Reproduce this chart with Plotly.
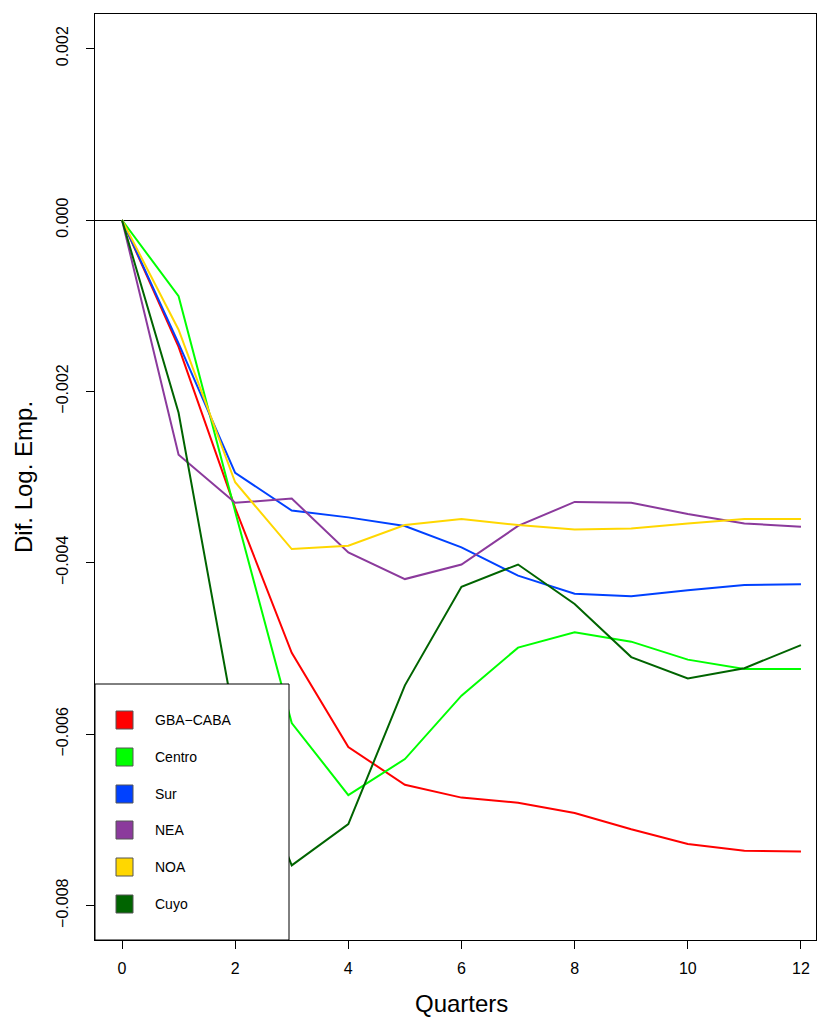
import plotly.graph_objects as go

quarters = list(range(13))
regions = ["GBA−CABA", "Centro", "Sur", "NEA", "NOA", "Cuyo"]
colors = ["#FF0000", "#00FF00", "#0041FF", "#8B3A9C", "#FFD700", "#006400"]

gba_caba = [0.0, -0.00148, -0.00336, -0.00505, -0.00615, -0.00659, -0.00674, -0.00680, -0.00692, -0.00711, -0.00728, -0.00736, -0.00737]
centro = [0.0, -0.00089, -0.00340, -0.00587, -0.00671, -0.00629, -0.00555, -0.00499, -0.00481, -0.00492, -0.00513, -0.00524, -0.00524]
sur = [0.0, -0.00144, -0.00295, -0.00339, -0.00347, -0.00357, -0.00382, -0.00415, -0.00436, -0.00439, -0.00432, -0.00426, -0.00425]
nea = [0.0, -0.00274, -0.00330, -0.00325, -0.00388, -0.00419, -0.00402, -0.00357, -0.00329, -0.00330, -0.00343, -0.00354, -0.00358]
noa = [0.0, -0.00128, -0.00306, -0.00384, -0.00380, -0.00356, -0.00349, -0.00356, -0.00361, -0.00360, -0.00354, -0.00349, -0.00349]
cuyo = [0.0, -0.00225, -0.00588, -0.00753, -0.00705, -0.00543, -0.00428, -0.00402, -0.00448, -0.00510, -0.00535, -0.00523, -0.00496]
series = [gba_caba, centro, sur, nea, noa, cuyo]

y_ticks = [0.002, 0.0, -0.002, -0.004, -0.006, -0.008]
y_tick_text = ["0.002", "0.000", "−0.002", "−0.004", "−0.006", "−0.008"]
x_ticks = [0, 2, 4, 6, 8, 10, 12]

W, H = 817, 1019
L, R, T, B = 95, 816, 14, 940
pw, ph = R - L, B - T

def px(x):
    return (x - L) / pw

def py(y):
    return (B - y) / ph

fig = go.Figure()
for name, vals, col in zip(regions, series, colors):
    fig.add_trace(go.Scatter(x=quarters, y=vals, mode="lines", name=name,
                             line=dict(color=col, width=2), showlegend=False))

shapes = []
annotations = []
# legend box
shapes.append(dict(type="rect", xref="paper", yref="paper",
                   x0=px(95), x1=px(289), y0=py(940), y1=py(684),
                   line=dict(color="black", width=1), fillcolor="white", layer="above"))
centers = [720, 757, 794, 830, 867, 904]
for name, col, cy in zip(regions, colors, centers):
    shapes.append(dict(type="rect", xref="paper", yref="paper",
                       x0=px(116), x1=px(133), y0=py(cy + 9), y1=py(cy - 9),
                       line=dict(color="#555555", width=1), fillcolor=col, layer="above"))
    annotations.append(dict(x=px(153), y=py(cy), xref="paper", yref="paper",
                            text=name, showarrow=False, xanchor="left", yanchor="middle",
                            font=dict(family="Liberation Sans, Arial", size=14, color="black")))

annotations.append(dict(x=px(461), y=py(1019), xref="paper", yref="paper", text="Quarters",
                        showarrow=False, xanchor="center", yanchor="bottom",
                        font=dict(family="Liberation Sans, Arial", size=24, color="black")))
annotations.append(dict(x=px(23), y=py(477), xref="paper", yref="paper", text="Dif. Log. Emp.",
                        showarrow=False, xanchor="center", yanchor="middle", textangle=-90,
                        font=dict(family="Liberation Sans, Arial", size=24, color="black")))

fig.update_layout(
    width=W, height=H,
    margin=dict(l=L, r=W - R, t=T, b=H - B),
    paper_bgcolor="white", plot_bgcolor="white",
    showlegend=False,
    shapes=shapes, annotations=annotations,
    font=dict(family="Liberation Sans, Arial", size=16, color="black"),
)
fig.update_xaxes(range=[(L - 122) / 56.58, (R - 122) / 56.58], tickvals=x_ticks,
                 ticks="outside", ticklen=8, tickcolor="black", showgrid=False, zeroline=False,
                 showline=True, linecolor="black", linewidth=1, mirror=True,
                 ticklabelstandoff=6, tickfont=dict(size=16))
fig.update_yaxes(range=[-(B - 220) / 85.7 * 0.001, (220 - T) / 85.7 * 0.001],
                 tickvals=y_ticks, ticktext=y_tick_text, tickangle=-90,
                 ticks="outside", ticklen=8, tickcolor="black", showgrid=False,
                 zeroline=True, zerolinecolor="black", zerolinewidth=1,
                 showline=True, linecolor="black", linewidth=1, mirror=True,
                 ticklabelstandoff=12, tickfont=dict(size=16))

fig.write_html("out.html", config={"displayModeBar": False},
               post_script="document.body.style.margin='0';document.body.style.overflow='hidden';")
